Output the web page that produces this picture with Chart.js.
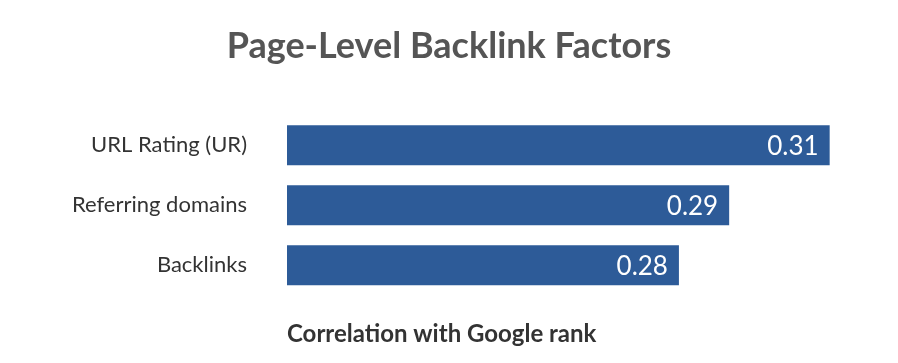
<!DOCTYPE html>
<html>
<head>
<meta charset="utf-8">
<script src="https://cdn.jsdelivr.net/npm/chart.js@4/dist/chart.umd.min.js"></script>
<style>
  html, body { margin: 0; padding: 0; background: #ffffff; }
  #wrap { width: 898px; height: 363px; position: relative; }
</style>
</head>
<body>
<div id="wrap"><canvas id="backlinkChart"></canvas></div>
<script>
// chart data
const factorLabels = ["URL Rating (UR)", "Referring domains", "Backlinks"];
const correlationValues = [0.31, 0.29, 0.28];
const axisMin = 0.202;
const axisMax = 0.3236;

const barColor = "#2d5b98";
const labelColor = "#333333";
const titleColor = "#555555";

// white value text at the end of each bar
const valueLabels = {
  id: "valueLabels",
  afterDatasetsDraw(chart) {
    const ctx = chart.ctx;
    const meta = chart.getDatasetMeta(0);
    ctx.save();
    ctx.fillStyle = "#ffffff";
    ctx.font = "26px Lato";
    ctx.textAlign = "right";
    ctx.textBaseline = "middle";
    meta.data.forEach((bar, i) => {
      ctx.fillText(correlationValues[i].toFixed(2), bar.x - 11, bar.y + 1);
    });
    ctx.restore();
  }
};

const ctx = document.getElementById("backlinkChart").getContext("2d");
new Chart(ctx, {
  type: "bar",
  data: {
    labels: factorLabels,
    datasets: [{
      data: correlationValues,
      backgroundColor: barColor,
      borderWidth: 0,
      barPercentage: 1,
      categoryPercentage: 0.667
    }]
  },
  options: {
    indexAxis: "y",
    responsive: true,
    maintainAspectRatio: false,
    animation: false,
    layout: { padding: { top: 0, right: 0, bottom: 14, left: 0 } },
    plugins: {
      legend: { display: false },
      tooltip: { enabled: false },
      title: {
        display: true,
        text: "Page-Level Backlink Factors",
        color: titleColor,
        font: { family: "Lato", size: 36, weight: "bold" },
        padding: { top: 25, bottom: 47 }
      }
    },
    scales: {
      x: {
        min: axisMin,
        max: axisMax,
        grid: { display: false, drawTicks: false },
        border: { display: false },
        ticks: { display: false },
        title: {
          display: true,
          text: "Correlation with Google rank",
          align: "start",
          color: labelColor,
          font: { family: "Lato", size: 24, weight: "bold" },
          padding: { top: 25, bottom: 0 }
        }
      },
      y: {
        grid: { display: false, drawTicks: false },
        border: { display: false },
        ticks: {
          color: labelColor,
          padding: 40,
          font: { family: "Lato", size: 22 }
        },
        afterFit(scale) { scale.width = 287; }
      }
    }
  },
  plugins: [valueLabels]
});
</script>
</body>
</html>
